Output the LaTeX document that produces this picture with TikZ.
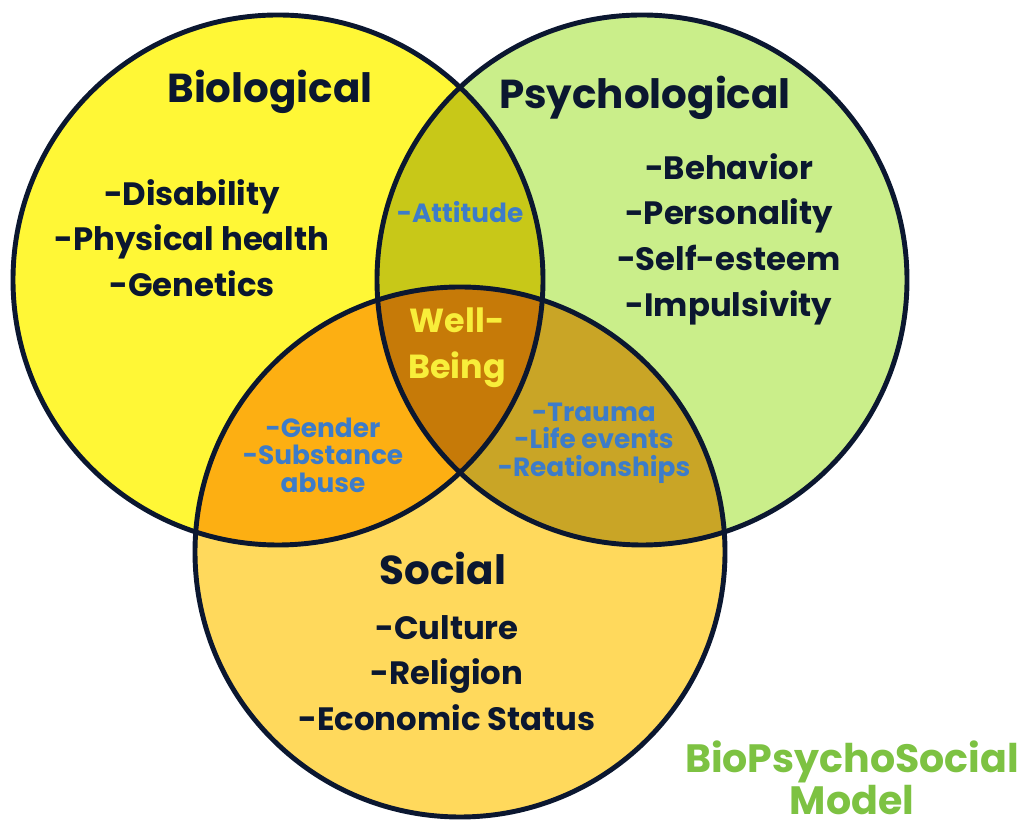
\documentclass[tikz,border=0pt]{standalone}
\usepackage{fontspec}
\setmainfont{Poppins}[BoldFont={* Bold}]
\definecolor{bioyellow}{HTML}{FFF736}
\definecolor{psygreen}{HTML}{CAEE8A}
\definecolor{socorange}{HTML}{FFD95C}
\definecolor{biopsy}{HTML}{C8C818}
\definecolor{biosoc}{HTML}{FDAF12}
\definecolor{psysoc}{HTML}{C9A526}
\definecolor{allthree}{HTML}{C67A08}
\definecolor{rim}{HTML}{0B1730}
\definecolor{itemblue}{HTML}{3D7CC9}
\definecolor{wellyellow}{HTML}{F8EE3A}
\definecolor{modelgreen}{HTML}{7DC242}

\begin{document}
\begin{tikzpicture}[
    heading/.style={font=\bfseries\fontsize{23}{28}\selectfont, text=rim},
    factor/.style={font=\bfseries\fontsize{18.4}{26}\selectfont, text=rim, align=center},
    overlap/.style={font=\bfseries\fontsize{15}{15.6}\selectfont, text=itemblue, align=center}
  ]
    \useasboundingbox (0,0) rectangle (20.58,16.66);
    \def\rad{5.3}
    \coordinate (bio) at (5.56,11.06);
    \coordinate (psy) at (12.84,11.06);
    \coordinate (soc) at (9.2,5.62);
    \begin{scope}
      \fill[bioyellow] (bio) circle (\rad);
      \fill[psygreen] (psy) circle (\rad);
      \fill[socorange] (soc) circle (\rad);
      \begin{scope}
        \clip (bio) circle (\rad);
        \fill[biopsy] (psy) circle (\rad);
        \fill[biosoc] (soc) circle (\rad);
      \end{scope}
      \begin{scope}
        \clip (psy) circle (\rad);
        \fill[psysoc] (soc) circle (\rad);
        \clip (soc) circle (\rad);
        \fill[allthree] (bio) circle (\rad);
      \end{scope}
      \foreach \c in {bio,psy,soc} {
        \draw[rim, line width=2.8pt] (\c) circle (\rad);
      }
    \end{scope}
    \node[heading] (biohead) at (5.4,14.82) {Biological};
    \node[factor] (bioitems) at (3.84,11.9) {-Disability\\-Physical health\\-Genetics};
    \node[heading] (psyhead) at (12.9,14.7) {Psychological};
    \node[factor] (psyitems) at (14.58,11.88) {-Behavior\\-Personality\\-Self-esteem\\-Impulsivity};
    \node[heading] (sochead) at (8.86,5.3) {Social};
    \node[factor] (socitems) at (8.94,3.2) {-Culture\\-Religion\\-Economic Status};
    \node[overlap] (attitude) at (9.2,12.42) {-Attitude};
    \node[overlap] (biosocitems) at (6.46,7.56) {-Gender\\-Substance\\abuse};
    \node[overlap] (psysocitems) at (11.88,7.8) {-Trauma\\-Life events\\-Reationships};
    \node[factor, text=wellyellow, font=\bfseries\fontsize{19}{26}\selectfont] (wellbeing) at (9.14,9.7) {Well-\\Being};
    \node[font=\bfseries\fontsize{22.5}{20}\selectfont, text=modelgreen, align=center, inner sep=1pt] (model) at (17.04,1.1) {BioPsychoSocial\\Model};
  \end{tikzpicture}
\end{document}
